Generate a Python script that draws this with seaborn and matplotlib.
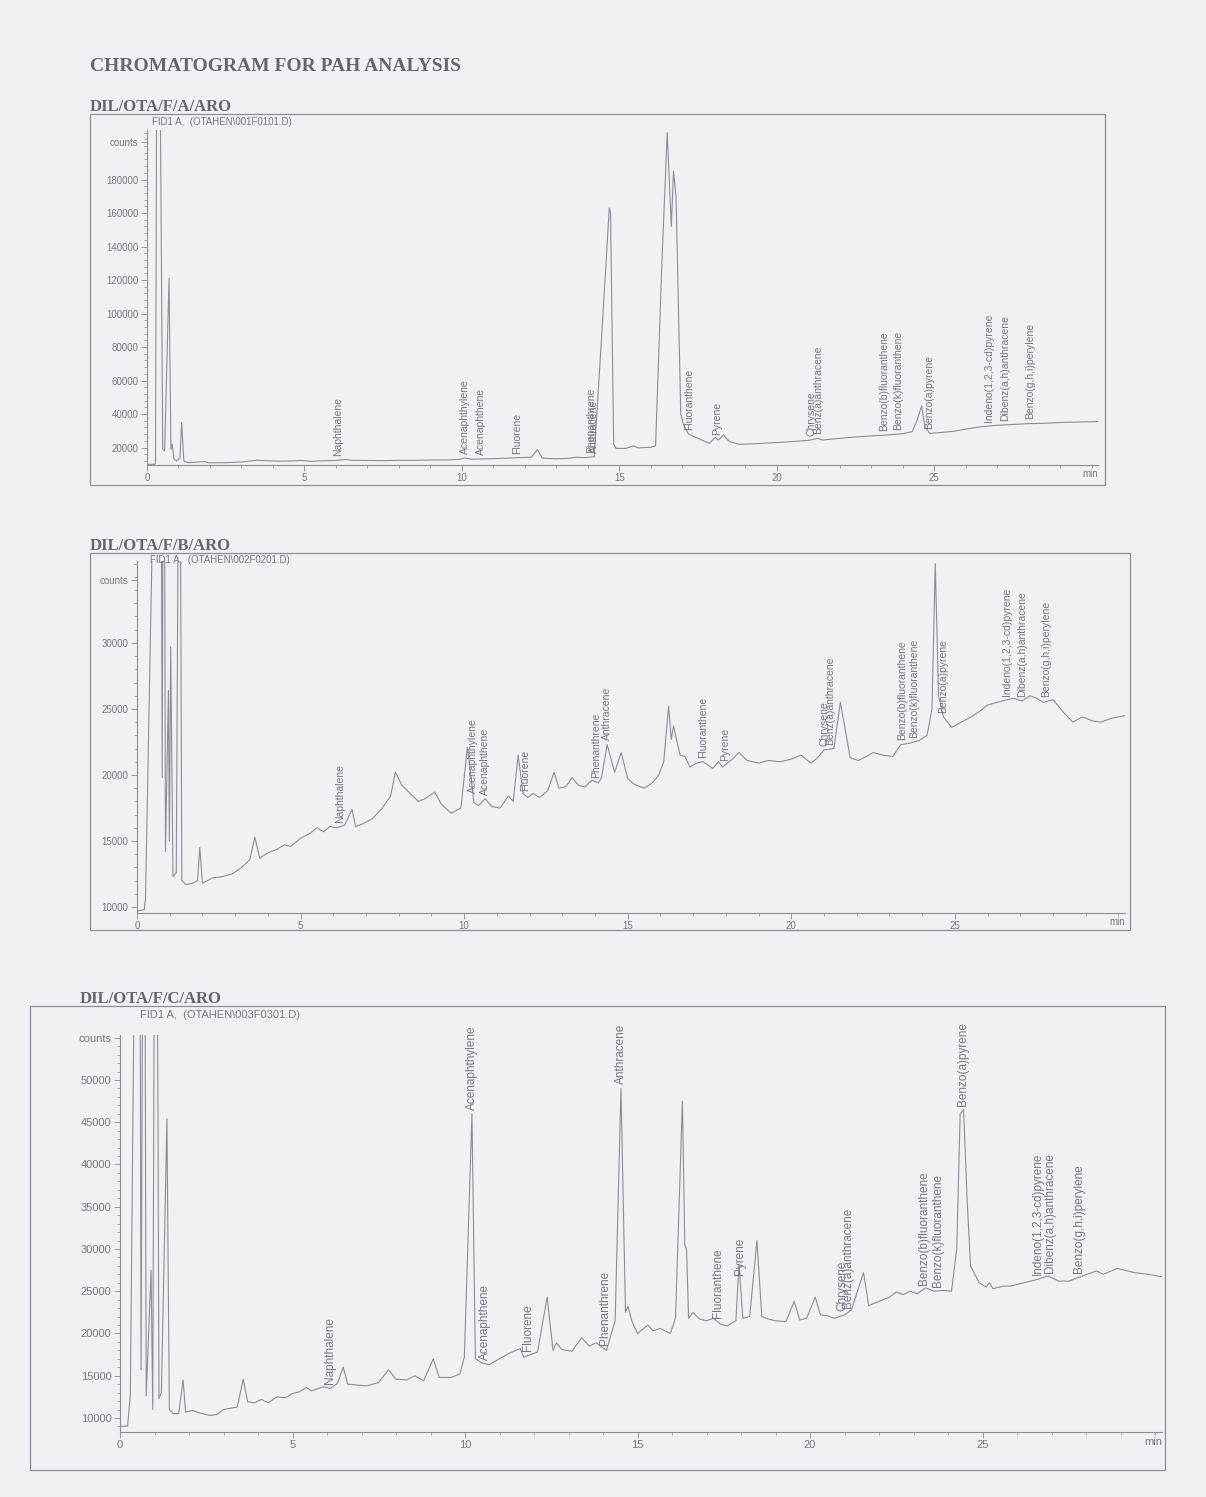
import numpy as np
import pandas as pd
import matplotlib
matplotlib.use("Agg")
import matplotlib.pyplot as plt
import seaborn as sns
from matplotlib.patches import Rectangle
from matplotlib.ticker import MultipleLocator

# ---------------- DATA ----------------
title = "CHROMATOGRAM FOR PAH ANALYSIS"
sample_names = ["DIL/OTA/F/A/ARO", "DIL/OTA/F/B/ARO", "DIL/OTA/F/C/ARO"]
file_names = ["FID1 A,  (OTAHEN\\001F0101.D)",
              "FID1 A,  (OTAHEN\\002F0201.D)",
              "FID1 A,  (OTAHEN\\003F0301.D)"]

x_ticks = [0, 5, 10, 15, 20, 25]

A_yticks = [20000, 40000, 60000, 80000, 100000, 120000, 140000, 160000, 180000]
B_yticks = [10000, 15000, 20000, 25000, 30000]
C_yticks = [10000, 15000, 20000, 25000, 30000, 35000, 40000, 45000, 50000]

# sample A trace (retention time in min, detector counts)
A_time = [0.0, 0.25, 0.27, 0.31, 0.41, 0.5, 0.56, 0.7, 0.76, 0.8, 0.86, 0.95, 1.05, 1.1, 1.17,
          1.3, 1.85, 1.95, 2.5, 3.0, 3.5, 3.7, 4.2, 4.6, 4.9, 5.2, 5.6, 6.0, 6.3, 6.5, 7.0, 7.5,
          8.0, 8.5, 9.0, 9.5, 9.9, 10.1, 10.3, 10.8, 11.3, 11.8, 12.2, 12.4, 12.55, 13.0, 13.4,
          13.6, 13.9, 14.2, 14.45, 14.68, 14.72, 14.82, 14.9, 15.2, 15.45, 15.6, 16.0, 16.15,
          16.35, 16.52, 16.65, 16.72, 16.8, 16.95, 17.05, 17.2, 17.5, 17.85, 18.05, 18.15, 18.3,
          18.5, 18.8, 19.2, 19.6, 20.0, 20.5, 21.0, 21.3, 21.45, 22.0, 22.5, 23.0, 23.5, 24.0,
          24.3, 24.45, 24.6, 24.7, 24.85, 25.2, 25.6, 26.0, 26.5, 27.0, 27.5, 28.0, 28.5, 29.0,
          29.5, 30.2]
A_counts = [10000, 10000, 10500, 260000, 260000, 19000, 18000, 121000, 19000, 22000, 13000, 12000,
            14000, 35000, 12000, 11000, 11600, 10900, 11000, 11400, 12500, 12200, 11900, 12000,
            12300, 11800, 12100, 12300, 12900, 12400, 12300, 12200, 12400, 12400, 12600, 12600,
            12900, 13800, 13100, 13300, 13600, 14000, 14200, 18800, 13700, 13300, 13600, 14200,
            14000, 14500, 90000, 163000, 160000, 22000, 19500, 19500, 21000, 19800, 20200, 21000,
            130000, 208000, 152000, 185000, 170000, 40000, 33000, 28000, 25500, 22500, 26000,
            24500, 27500, 23500, 22000, 22200, 22600, 23000, 23600, 24300, 25500, 24500, 25500,
            26300, 27000, 27500, 28300, 29500, 36000, 45000, 33000, 28500, 29000, 29700, 31000,
            32500, 33300, 33800, 34300, 34500, 35000, 35200, 35500]

# sample B trace
B_time = [0.0, 0.22, 0.26, 0.52, 0.74, 0.77, 0.8, 0.84, 0.87, 0.96, 0.99, 1.03, 1.1, 1.2, 1.27,
          1.32, 1.37, 1.5, 1.7, 1.85, 1.92, 2.0, 2.3, 2.6, 2.9, 3.2, 3.45, 3.6, 3.75, 4.0, 4.3,
          4.5, 4.7, 5.0, 5.3, 5.5, 5.7, 5.9, 6.1, 6.35, 6.57, 6.68, 6.9, 7.2, 7.5, 7.75, 7.9, 8.1,
          8.35, 8.6, 8.8, 9.1, 9.3, 9.6, 9.9, 10.1, 10.3, 10.45, 10.64, 10.85, 11.1, 11.35, 11.5,
          11.65, 11.8, 11.95, 12.1, 12.3, 12.55, 12.75, 12.9, 13.1, 13.3, 13.5, 13.7, 13.9, 14.1,
          14.2, 14.37, 14.6, 14.8, 15.0, 15.2, 15.5, 15.75, 15.95, 16.1, 16.25, 16.33, 16.4,
          16.6, 16.75, 16.9, 17.1, 17.3, 17.6, 17.77, 17.9, 18.0, 18.2, 18.4, 18.65, 19.0, 19.3,
          19.66, 20.0, 20.3, 20.6, 20.8, 21.0, 21.3, 21.5, 21.8, 22.05, 22.3, 22.5, 22.8, 23.1,
          23.35, 23.6, 23.9, 24.15, 24.3, 24.4, 24.5, 24.65, 24.9, 25.2, 25.5, 25.8, 26.0, 26.3,
          26.6, 26.8, 27.05, 27.3, 27.5, 27.7, 28.0, 28.3, 28.6, 28.9, 29.2, 29.45, 29.8, 30.2]
B_counts = [9700, 9800, 10600, 45000, 45000, 19800, 45000, 45000, 14200, 26400, 15000, 29700,
            12300, 12600, 45000, 45000, 12000, 11700, 11800, 12000, 14500, 11800, 12200, 12300,
            12500, 13000, 13600, 15300, 13700, 14100, 14400, 14700, 14600, 15200, 15600, 16000,
            15700, 16100, 16000, 16200, 17400, 16100, 16300, 16700, 17500, 18400, 20200, 19200,
            18600, 18000, 18200, 18700, 17800, 17100, 17500, 22100, 17900, 17700, 18200, 17600,
            17500, 18400, 18000, 21500, 18600, 18300, 18600, 18300, 18800, 20200, 19000, 19100,
            19800, 19200, 19100, 19600, 19400, 19800, 22300, 20200, 21700, 19700, 19300, 19000,
            19400, 20000, 21000, 25200, 22700, 23700, 21500, 21400, 20600, 20900, 21000, 20500,
            21000, 20600, 20800, 21200, 21700, 21100, 20900, 21100, 21000, 21200, 21500, 20900,
            21300, 21900, 22000, 25500, 21300, 21100, 21400, 21700, 21500, 21400, 22300, 22400,
            22600, 23000, 25000, 36000, 26000, 24400, 23600, 24000, 24400, 24900, 25300, 25500,
            25700, 25800, 25600, 26000, 25800, 25500, 25700, 24800, 24000, 24400, 24100, 24000,
            24300, 24500]

# sample C trace
C_time = [0.0, 0.22, 0.3, 0.43, 0.58, 0.61, 0.66, 0.72, 0.76, 0.9, 0.95, 1.0, 1.08, 1.13, 1.2,
          1.36, 1.43, 1.55, 1.7, 1.83, 1.9, 2.1, 2.3, 2.6, 2.8, 3.0, 3.4, 3.57, 3.7, 3.9, 4.1,
          4.3, 4.55, 4.8, 5.0, 5.2, 5.4, 5.55, 5.9, 6.1, 6.3, 6.47, 6.6, 7.15, 7.5, 7.78, 8.0,
          8.3, 8.55, 8.8, 9.08, 9.25, 9.6, 9.85, 9.98, 10.2, 10.3, 10.5, 10.7, 10.95, 11.3, 11.6,
          11.7, 12.1, 12.38, 12.55, 12.65, 12.8, 13.1, 13.38, 13.6, 13.8, 14.1, 14.35, 14.52,
          14.65, 14.72, 14.85, 15.0, 15.3, 15.45, 15.65, 15.95, 16.1, 16.3, 16.37, 16.42, 16.48,
          16.6, 16.8, 17.0, 17.2, 17.4, 17.6, 17.85, 17.94, 18.05, 18.25, 18.46, 18.6, 18.8,
          19.0, 19.3, 19.54, 19.7, 19.9, 20.15, 20.3, 20.5, 20.7, 21.0, 21.2, 21.55, 21.7, 22.0,
          22.3, 22.5, 22.7, 22.9, 23.1, 23.35, 23.6, 23.85, 24.1, 24.25, 24.35, 24.45, 24.55,
          24.65, 24.9, 25.1, 25.2, 25.3, 25.6, 25.8, 26.2, 26.5, 26.9, 27.2, 27.5, 27.9, 28.3,
          28.5, 28.9, 29.1, 29.4, 29.8, 30.2]
C_counts = [9000, 9050, 12800, 70000, 70000, 15700, 70000, 70000, 12600, 27500, 11000, 70000,
            70000, 12300, 13000, 45400, 11000, 10500, 10500, 14500, 10700, 10900, 10600, 10300,
            10400, 11000, 11300, 14600, 11900, 11800, 12200, 11800, 12500, 12400, 12900, 13100,
            13600, 13200, 13700, 13500, 14100, 16000, 14000, 13800, 14200, 15700, 14600, 14500,
            15000, 14400, 17000, 14800, 14800, 15200, 17200, 46000, 17000, 16500, 16300, 16900,
            17700, 18200, 17200, 17800, 24300, 18000, 18900, 18100, 17900, 19500, 18500, 18900,
            18000, 21500, 49000, 22500, 23200, 21300, 20000, 21000, 20300, 20600, 20000, 21800,
            47500, 30500, 30000, 21800, 22500, 21700, 21500, 21800, 21100, 20900, 21500, 28200,
            21800, 22000, 31000, 22000, 21700, 21500, 21400, 23800, 21600, 21800, 24300, 22200,
            22100, 21800, 22200, 22800, 27200, 23300, 23800, 24300, 24900, 24600, 25000, 24700,
            25400, 25000, 25100, 25000, 30000, 46000, 46500, 36000, 28000, 26000, 25500, 26000,
            25300, 25600, 25600, 26000, 26300, 26800, 26200, 26200, 26800, 27400, 27000, 27700,
            27500, 27200, 27000, 26700]

# peak identification labels and their retention times (min)
compounds = ["Naphthalene", "Acenaphthylene", "Acenaphthene", "Fluorene", "Phenanthrene",
             "Anthracene", "Fluoranthene", "Pyrene", "Chrysene", "Benz(a)anthracene",
             "Benzo(b)fluoranthene", "Benzo(k)fluoranthene", "Benzo(a)pyrene",
             "Indeno(1,2,3-cd)pyrene", "Dibenz(a,h)anthracene", "Benzo(g,h,i)perylene"]
A_rt = [6.07, 10.1, 10.6, 11.75, 14.1, 14.2, 17.2, 18.1, 21.1, 21.3, 23.4, 23.85, 24.85,
        26.75, 27.25, 28.05]
B_rt = [6.2, 10.28, 10.64, 11.87, 14.04, 14.37, 17.3, 17.98, 21.0, 21.2, 23.4, 23.75, 24.65,
        26.6, 27.05, 27.8]
C_rt = [6.09, 10.2, 10.58, 11.83, 14.06, 14.52, 17.33, 17.97, 20.95, 21.1, 23.3, 23.7, 24.43,
        26.6, 26.95, 27.8]

# ---------------- STYLE / LAYOUT ----------------
sns.set_style("ticks")
plt.rcParams['font.family'] = ['Liberation Sans', 'DejaVu Sans']

W, H = 1206, 1497
BG = '#f4eff5'
LINE = '#918a97'
TXT = '#7c7381'
HEAD = '#6b6271'

fig = plt.figure(figsize=(W / 100, H / 100), dpi=100, facecolor=BG)

panels = [
    dict(t=A_time, v=A_counts, rt=A_rt, yt=A_yticks, ylim=(9600, 209600), counts=202400,
         minor=4000, ax=(147, 1098, 130, 465), frame=(90, 1105, 114, 485),
         head=(90, 111), sub=(152, 122), fs=7, lfs=7.5),
    dict(t=B_time, v=B_counts, rt=B_rt, yt=B_yticks, ylim=(9550, 36200), counts=34780,
         minor=1000, ax=(137, 1125, 561, 913), frame=(90, 1130, 553, 930),
         head=(90, 550), sub=(150, 560), fs=7, lfs=7.5),
    dict(t=C_time, v=C_counts, rt=C_rt, yt=C_yticks, ylim=(8340, 55320), counts=54960,
         minor=1000, ax=(120, 1162, 1035, 1432), frame=(30, 1165, 1006, 1470),
         head=(80, 1003), sub=(140, 1015), fs=8, lfs=8.5),
]

fig.text(90 / W, 1 - 71 / H, title, family=['Liberation Serif'], fontweight='bold',
         fontsize=14, color=HEAD, va='baseline', ha='left')

for p, sname, fname in zip(panels, sample_names, file_names):
    l, r, top, bot = p['ax']
    ax = fig.add_axes([l / W, 1 - bot / H, (r - l) / W, (bot - top) / H])
    ax.set_facecolor('none')
    df = pd.DataFrame({'min': p['t'], 'counts': p['v']})
    sns.lineplot(data=df, x='min', y='counts', ax=ax, color=LINE, linewidth=0.8,
                 estimator=None, sort=False)
    ax.set_xlim(0, 30.2)
    ax.set_ylim(*p['ylim'])
    ax.set_xlabel('')
    ax.set_ylabel('')
    ax.set_xticks(x_ticks)
    ax.set_xticklabels([str(x) for x in x_ticks])
    ax.xaxis.set_minor_locator(MultipleLocator(1))
    ax.set_yticks(p['yt'] + [p['counts']])
    ax.set_yticklabels([str(y) for y in p['yt']] + ['counts'])
    ax.yaxis.set_minor_locator(MultipleLocator(p['minor']))
    ax.tick_params(axis='both', which='major', direction='out', length=4, width=0.6,
                   color=LINE, labelcolor=TXT, labelsize=p['fs'], pad=2)
    ax.tick_params(axis='both', which='minor', direction='out', length=2, width=0.5,
                   color=LINE)
    for s in ['top', 'right']:
        ax.spines[s].set_visible(False)
    for s in ['left', 'bottom']:
        ax.spines[s].set_color(LINE)
        ax.spines[s].set_linewidth(0.8)
    ax.grid(False)
    ax.text(1.0, -0.012, 'min', transform=ax.transAxes, ha='right', va='top',
            fontsize=p['fs'], color=TXT)

    # peak labels, placed just above the trace at each retention time
    for name, rt in zip(compounds, p['rt']):
        yv = np.interp(rt, p['t'], p['v'])
        ax.annotate(name, xy=(rt, yv), xytext=(0, 3), textcoords='offset points',
                    rotation=90, ha='center', va='bottom', fontsize=p['lfs'], color=TXT,
                    annotation_clip=False)

    # frame round the panel
    fl, fr, ft, fb = p['frame']
    fig.add_artist(Rectangle((fl / W, 1 - fb / H), (fr - fl) / W, (fb - ft) / H,
                             transform=fig.transFigure, fill=False, ec=LINE, lw=0.9))
    hx, hy = p['head']
    fig.text(hx / W, 1 - hy / H, sname, family=['Liberation Serif'], fontweight='bold',
             fontsize=12, color=HEAD, va='baseline', ha='left')
    sx, sy = p['sub']
    fig.text(sx / W, 1 - sy / H, fname, fontsize=p['fs'], color=TXT, va='center', ha='left')

fig.savefig('out.png', dpi=100, facecolor=BG)
